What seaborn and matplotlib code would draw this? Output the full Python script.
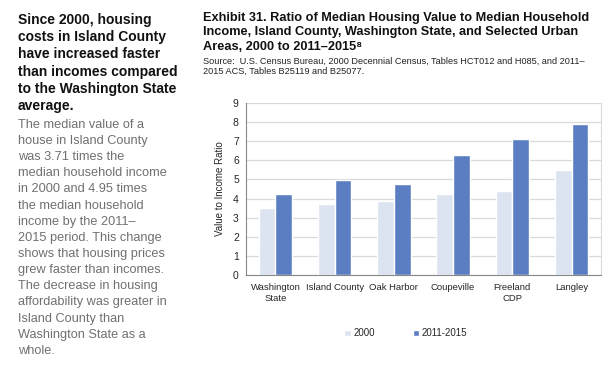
import pandas as pd
import matplotlib.pyplot as plt
import seaborn as sns

places = ["Washington\nState", "Island County", "Oak Harbor", "Coupeville", "Freeland\nCDP", "Langley"]
ratio_2000 = [3.50, 3.71, 3.88, 4.23, 4.37, 5.47]
ratio_2015 = [4.23, 4.95, 4.75, 6.27, 7.11, 7.90]
periods = ["2000", "2011-2015"]

df = pd.DataFrame({
    "place": places * 2,
    "period": [periods[0]] * len(places) + [periods[1]] * len(places),
    "ratio": ratio_2000 + ratio_2015,
})

sns.set_style("white")
plt.rcParams["font.family"] = ["Liberation Sans", "DejaVu Sans"]

fig = plt.figure(figsize=(6.16, 3.67), dpi=100)
ax = fig.add_axes([0.399, 0.2507, 0.577, 0.4686])

sns.barplot(data=df, x="place", y="ratio", hue="period", palette=["#dce4f1", "#5b7ec3"],
            width=0.565, gap=0, saturation=1, ax=ax, legend=True)

ax.set_ylim(0, 9)
ax.set_yticks(range(0, 10))
ax.set_xlim(-0.5, 5.5)
ax.yaxis.grid(True, color="#d9d9d9", linewidth=0.9)
ax.set_axisbelow(True)
ax.spines["top"].set_visible(False)
ax.spines["right"].set_color("#d9d9d9")
ax.spines["left"].set_color("#888888")
ax.spines["bottom"].set_color("#888888")
ax.tick_params(axis="y", length=3, color="#888888", labelsize=7.5, pad=2)
ax.tick_params(axis="x", length=0, labelsize=6.8, pad=6)
ax.set_xticks([i - 0.5 for i in range(7)], minor=True)
ax.tick_params(axis="x", which="minor", length=3, color="#888888")
ax.set_xlabel("")
ax.set_ylabel("Value to Income Ratio", fontsize=7, labelpad=6)

ax.legend(loc="upper center", bbox_to_anchor=(0.45, -0.26), ncol=2, frameon=False,
          fontsize=7, handlelength=0.7, handleheight=0.7, columnspacing=3.9, handletextpad=0.25)

fig.text(0.029, 0.965, "Since 2000, housing\ncosts in Island County\nhave increased faster\nthan incomes compared\nto the Washington State\naverage.",
         fontsize=10, fontweight="bold", va="top", linespacing=1.3, color="#111111")
fig.text(0.029, 0.676, "The median value of a\nhouse in Island County\nwas 3.71 times the\nmedian household income\nin 2000 and 4.95 times\nthe median household\nincome by the 2011\u2013\n2015 period. This change\nshows that housing prices\ngrew faster than incomes.\nThe decrease in housing\naffordability was greater in\nIsland County than\nWashington State as a\nwhole.",
         fontsize=9.2, va="top", linespacing=1.46, color="#707070")

fig.text(0.329, 0.968, "Exhibit 31. Ratio of Median Housing Value to Median Household\nIncome, Island County, Washington State, and Selected Urban\nAreas, 2000 to 2011\u20132015\u2078",
         fontsize=9.2, fontweight="bold", va="top", linespacing=1.3, color="#111111")
fig.text(0.329, 0.845, "Source:  U.S. Census Bureau, 2000 Decennial Census, Tables HCT012 and H085, and 2011\u2013\n2015 ACS, Tables B25119 and B25077.",
         fontsize=6.6, va="top", linespacing=1.2, color="#222222")

fig.savefig("out.png", dpi=100)
